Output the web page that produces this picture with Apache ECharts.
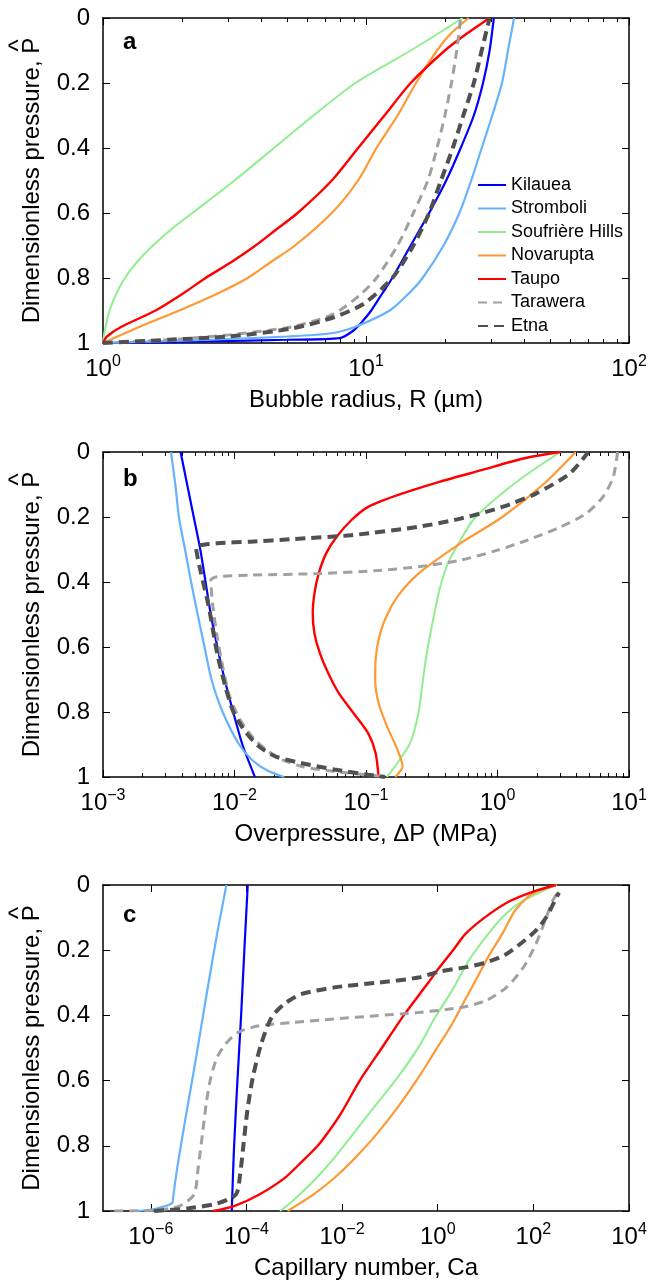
<!DOCTYPE html>
<html><head><meta charset="utf-8">
<script src="https://cdn.jsdelivr.net/npm/echarts@6/dist/echarts.min.js"></script>
<style>html,body{margin:0;padding:0;background:#fff}#c{width:656px;height:1288px}</style>
</head><body><div id="c"></div>
<script>
const FONT = "'Liberation Sans', Arial, Helvetica, sans-serif";

const seriesNames = ['Kilauea','Stromboli','Soufrière Hills','Novarupta','Taupo','Tarawera','Etna'];
const seriesColors = ['#0000FF','#66B2FF','#90EE90','#FF9933','#FF0000','#A0A0A0','#505050'];
const seriesWidths = [2.2, 2.2, 2, 2.2, 2.4, 3, 4];
const seriesDash = ['solid','solid','solid','solid','solid',[9,6],[10,6]];

const panelLetters = ['a','b','c'];
const xAxisNames = ['Bubble radius, R (µm)', 'Overpressure, \u0394P (MPa)', 'Capillary number, Ca'];
const yAxisName = 'Dimensionless pressure, P';
const hatMark = '^';
const xMin = [1, 1e-3, 1e-7];
const xMax = [100, 10, 1e4];
const xMajorTicks = [[1,10,100],[1e-3,1e-2,1e-1,1,10],[1e-6,1e-4,1e-2,1,100,1e4]];
const yTickValues = [0,0.2,0.4,0.6,0.8,1];

// Panel a: [bubble radius (µm), P-hat]
const kilaueaA = [[1,1],[1.585,0.998],[2.512,0.995],[5.012,0.99],[7.943,0.985],[9.016,0.96],[9.772,0.93],[10.47,0.9],[11.48,0.85],[12.59,0.8],[14.79,0.7],[17.38,0.6],[20.18,0.5],[22.91,0.4],[25.70,0.3],[27.86,0.2],[29.51,0.1],[30.62,0]];
const stromboliA = [[1,1],[1.585,0.995],[2.512,0.99],[5.012,0.98],[7.413,0.97],[9.120,0.95],[12.30,0.9],[14.45,0.85],[16.41,0.8],[19.72,0.7],[22.65,0.6],[25.12,0.5],[27.54,0.4],[30.20,0.3],[32.89,0.2],[34.67,0.1],[36.56,0]];
const soufriereA = [[1,1],[1.007,0.98],[1.023,0.95],[1.059,0.9],[1.122,0.85],[1.211,0.8],[1.349,0.75],[1.549,0.7],[1.820,0.65],[2.188,0.6],[3.162,0.5],[4.467,0.4],[6.310,0.3],[9.120,0.2],[14.79,0.1],[18.62,0.05],[23.28,0]];
const novaruptaA = [[1,1],[1.380,0.95],[1.950,0.9],[2.692,0.85],[3.548,0.8],[4.365,0.75],[5.370,0.7],[7.413,0.6],[9.333,0.5],[10.96,0.4],[13.18,0.3],[15.49,0.2],[18.62,0.1],[20.89,0.05],[24.55,0]];
const taupoA = [[1,1],[1.035,0.98],[1.175,0.95],[1.585,0.9],[1.995,0.85],[2.455,0.8],[3.090,0.75],[3.802,0.7],[4.571,0.65],[5.495,0.6],[7.413,0.5],[9.333,0.4],[11.75,0.3],[14.79,0.2],[19.95,0.1],[23.99,0.05],[29.51,0]];
const taraweraA = [[1,1],[1.778,0.99],[3.020,0.975],[5.248,0.95],[7.079,0.92],[7.943,0.9],[9.550,0.85],[10.96,0.8],[13.18,0.7],[15.14,0.6],[17.18,0.5],[18.62,0.4],[19.95,0.3],[21.13,0.2],[22.13,0.1],[22.91,0]];
const etnaA = [[1,1],[1.778,0.99],[3.020,0.98],[5.248,0.955],[7.586,0.92],[9.772,0.88],[12.59,0.8],[15.14,0.7],[17.38,0.6],[19.28,0.5],[21.38,0.4],[23.44,0.3],[25.70,0.2],[27.54,0.1],[29.51,0]];

// Panel b: [overpressure (MPa), P-hat]
const kilaueaB = [[0.003890,0],[0.004365,0.1],[0.004898,0.2],[0.005495,0.3],[0.006026,0.4],[0.006607,0.5],[0.007413,0.6],[0.008414,0.7],[0.009772,0.8],[0.01148,0.9],[0.01429,1]];
const stromboliB = [[0.003289,0],[0.003548,0.1],[0.003776,0.2],[0.004207,0.3],[0.004677,0.4],[0.005248,0.5],[0.005916,0.6],[0.006683,0.7],[0.008128,0.8],[0.01084,0.9],[0.01380,0.95],[0.01778,0.98],[0.02388,1]];
const soufriereB = [[3.0,0],[1.570,0.077],[0.9397,0.148],[0.6501,0.21],[0.5224,0.271],[0.4188,0.343],[0.3614,0.425],[0.3236,0.517],[0.2897,0.619],[0.2692,0.711],[0.2506,0.803],[0.2163,0.896],[0.1734,0.957],[0.1442,1]];
const novaruptaB = [[3.936,0],[2.270,0.097],[1.089,0.2],[0.5224,0.281],[0.2506,0.374],[0.1734,0.445],[0.1390,0.517],[0.1247,0.578],[0.1183,0.64],[0.1175,0.701],[0.1247,0.773],[0.1445,0.844],[0.1734,0.916],[0.1897,0.967],[0.1671,1]];
const taupoB = [[3.0,0],[1.570,0.02],[0.7534,0.056],[0.3614,0.092],[0.1734,0.133],[0.1038,0.169],[0.07727,0.21],[0.05984,0.261],[0.04977,0.312],[0.04365,0.374],[0.04055,0.435],[0.03936,0.496],[0.04055,0.558],[0.04457,0.619],[0.05164,0.681],[0.06209,0.742],[0.08017,0.803],[0.1038,0.865],[0.1183,0.926],[0.1247,1]];
const taraweraB = [[8.185,0],[7.586,0.077],[6.339,0.138],[4.732,0.189],[3.041,0.23],[1.690,0.271],[1.0,0.302],[0.5224,0.333],[0.2506,0.353],[0.1202,0.365],[0.04457,0.374],[0.01327,0.379],[0.007379,0.384],[0.006607,0.394],[0.006855,0.476],[0.007379,0.568],[0.008222,0.67],[0.009183,0.752],[0.01104,0.824],[0.01429,0.885],[0.02061,0.937],[0.03206,0.967],[0.05768,0.983],[0.1202,0.996],[0.1393,1]];
const etnaB = [[4.909,0],[3.524,0.067],[1.959,0.128],[1.089,0.169],[0.5224,0.205],[0.2506,0.23],[0.07727,0.256],[0.02767,0.268],[0.01327,0.276],[0.007379,0.281],[0.005105,0.294],[0.005495,0.363],[0.006368,0.476],[0.007379,0.619],[0.008531,0.722],[0.009886,0.803],[0.01233,0.865],[0.01538,0.906],[0.02061,0.937],[0.03206,0.957],[0.05768,0.977],[0.1038,0.993],[0.1393,1]];

// Panel c: [capillary number, P-hat]
const kilaueaC = [[1.064e-4,0],[9.036e-5,0.2],[7.691e-5,0.406],[6.412e-5,0.611],[5.458e-5,0.816],[5.035e-5,0.959],[4.932e-5,1]];
const stromboliC = [[3.802e-5,0],[2.432e-5,0.15],[1.469e-5,0.335],[8.851e-6,0.529],[5.346e-6,0.713],[3.573e-6,0.867],[2.917e-6,0.959],[2.818e-6,0.975],[1.259e-6,0.993],[5.248e-7,1]];
const soufriereC = [[5.035e-4,1],[9.226e-4,0.969],[2.529e-3,0.908],[6.950e-3,0.836],[1.910e-2,0.754],[5.236e-2,0.672],[0.1439,0.591],[0.3945,0.498],[0.8851,0.406],[1.986,0.324],[4.436,0.232],[9.977,0.161],[22.39,0.099],[61.52,0.048],[297.2,0]];
const novaruptaC = [[7.244e-4,1],[2.529e-3,0.949],[6.950e-3,0.898],[1.910e-2,0.836],[5.236e-2,0.765],[0.1439,0.683],[0.3945,0.591],[0.8851,0.509],[1.986,0.427],[3.639,0.355],[6.668,0.284],[12.25,0.212],[22.39,0.15],[41.11,0.079],[92.26,0.028],[309.7,0]];
const taupoC = [[1.995e-5,1],[5.495e-5,0.985],[1.820e-4,0.95],[6.166e-4,0.9],[1.413e-3,0.85],[3.090e-3,0.8],[5.623e-3,0.75],[9.550e-3,0.7],[2.344e-2,0.6],[6.761e-2,0.5],[0.1950,0.4],[0.631,0.3],[1.122,0.25],[2.089,0.2],[3.802,0.15],[9.550,0.1],[31.62,0.05],[100,0.02],[295.1,0]];
const taraweraC = [[1.726e-7,1],[1.175e-6,0.998],[3.954e-6,0.985],[8.017e-6,0.949],[9.795e-6,0.867],[1.200e-5,0.765],[1.469e-5,0.662],[1.795e-5,0.591],[2.432e-5,0.529],[3.639e-5,0.488],[6.668e-5,0.452],[1.832e-4,0.432],[9.226e-4,0.422],[6.950e-3,0.411],[5.236e-2,0.401],[0.3945,0.391],[2.972,0.376],[9.977,0.355],[27.42,0.314],[61.52,0.253],[113.0,0.181],[187.1,0.099],[252.9,0.048],[309.7,0.028]];
const etnaC = [[1.175e-6,1],[5.916e-6,0.992],[2.432e-5,0.977],[6.039e-5,0.949],[7.379e-5,0.887],[8.690e-5,0.795],[1.042e-4,0.693],[1.355e-4,0.591],[2.028e-4,0.488],[3.357e-4,0.406],[6.152e-4,0.365],[1.380e-3,0.335],[6.950e-3,0.314],[5.236e-2,0.3],[0.3945,0.284],[1.122,0.265],[3.981,0.252],[10.0,0.238],[25.12,0.215],[56.23,0.178],[112.2,0.14],[186.2,0.099],[281.8,0.048],[342.8,0.023]];

const panelData = [
  [kilaueaA, stromboliA, soufriereA, novaruptaA, taupoA, taraweraA, etnaA],
  [kilaueaB, stromboliB, soufriereB, novaruptaB, taupoB, taraweraB, etnaB],
  [kilaueaC, stromboliC, soufriereC, novaruptaC, taupoC, taraweraC, etnaC]
];

const gridTop = [18, 452, 885];
const gridHeight = [325, 325, 326];
const letterTop = [30, 467, 903];
const hasMinor = [true, true, false];

function minorTicks(lo, hi) {
  const out = [];
  const e0 = Math.round(Math.log10(lo)), e1 = Math.round(Math.log10(hi));
  for (let e = e0; e < e1; e++) for (let m = 2; m <= 9; m++) out.push(parseFloat((m * Math.pow(10, e)).toPrecision(6)));
  return out;
}
function pow10Label(v) {
  const e = Math.round(Math.log10(v));
  return '{b|10}{e|' + (e < 0 ? '\u2212' + (-e) : e) + '}';
}

const grids = [], xAxes = [], yAxes = [], series = [], graphics = [];
for (let i = 0; i < 3; i++) {
  grids.push({left: 103, width: 526, top: gridTop[i], height: gridHeight[i], containLabel: false, outerBoundsMode: 'none'});
  const common = {type: 'log', logBase: 10, gridIndex: i, min: xMin[i], max: xMax[i], splitLine: {show: false}};
  const lineOn = {show: true, onZero: false, lineStyle: {color: '#000', width: 1.5}};
  const minor = hasMinor[i] ? minorTicks(xMin[i], xMax[i]) : [];
  xAxes.push(Object.assign({}, common, {
    position: 'bottom', axisLine: lineOn,
    axisTick: {show: true, inside: true, length: 7, customValues: xMajorTicks[i], lineStyle: {color: '#000', width: 1}},
    axisLabel: {show: true, customValues: xMajorTicks[i], formatter: pow10Label, margin: 11,
      rich: {b: {fontSize: 24, lineHeight: 30, fontFamily: FONT, color: '#000'},
             e: {fontSize: 16, lineHeight: 16, verticalAlign: 'top', fontFamily: FONT, color: '#000'}}},
    name: xAxisNames[i], nameLocation: 'middle', nameGap: 45,
    nameTextStyle: {fontSize: 24, color: '#000', fontFamily: FONT}
  }));
  xAxes.push(Object.assign({}, common, {
    position: 'top', axisLine: lineOn,
    axisTick: {show: true, inside: true, length: 7, customValues: xMajorTicks[i], lineStyle: {color: '#000', width: 1}},
    axisLabel: {show: false}
  }));
  xAxes.push(Object.assign({}, common, {
    position: 'bottom', axisLine: {show: false, onZero: false},
    axisTick: {show: minor.length > 0, inside: true, length: 4, customValues: minor.length ? minor : undefined, lineStyle: {color: '#000', width: 1}},
    axisLabel: {show: false}
  }));
  xAxes.push(Object.assign({}, common, {
    position: 'top', axisLine: {show: false, onZero: false},
    axisTick: {show: minor.length > 0, inside: true, length: 4, customValues: minor.length ? minor : undefined, lineStyle: {color: '#000', width: 1}},
    axisLabel: {show: false}
  }));
  const yCommon = {type: 'value', gridIndex: i, min: 0, max: 1, interval: 0.2, inverse: true, splitLine: {show: false},
    axisLine: {show: true, onZero: false, lineStyle: {color: '#000', width: 1.5}},
    axisTick: {show: true, inside: true, length: 7, lineStyle: {color: '#000', width: 1}}};
  yAxes.push(Object.assign({}, yCommon, {
    position: 'left',
    axisLabel: {show: true, fontSize: 24, color: '#000', margin: 13, fontFamily: FONT},
    name: yAxisName, nameLocation: 'middle', nameGap: 59, nameRotate: 90,
    nameTextStyle: {fontSize: 24, color: '#000', fontFamily: FONT}
  }));
  yAxes.push(Object.assign({}, yCommon, {position: 'right', axisLabel: {show: false}}));

  for (let k = 0; k < seriesNames.length; k++) {
    series.push({
      type: 'line', name: seriesNames[k], xAxisIndex: 4 * i, yAxisIndex: 2 * i,
      data: panelData[i][k], symbol: 'none', showSymbol: false, smooth: 0.25,
      lineStyle: {color: seriesColors[k], width: seriesWidths[k], type: seriesDash[k]},
      itemStyle: {color: seriesColors[k]}, emphasis: {disabled: true}, animation: false
    });
  }
  graphics.push({type: 'text', left: 123, top: letterTop[i],
    style: {text: panelLetters[i], font: 'bold 24px ' + FONT, fill: '#000'}});
  // hat over the P of the rotated y-axis title
  const nameCenterY = gridTop[i] + gridHeight[i] / 2;
  graphics.push({type: 'text', x: 20, y: nameCenterY - 135, rotation: Math.PI / 2,
    style: {text: hatMark, font: '26px ' + FONT, fill: '#000', align: 'center', verticalAlign: 'middle'}});
}

const chart = echarts.init(document.getElementById('c'), null, {renderer: 'canvas'});
chart.setOption({
  animation: false,
  backgroundColor: '#fff',
  textStyle: {fontFamily: FONT},
  grid: grids, xAxis: xAxes, yAxis: yAxes, series: series, graphic: graphics,
  legend: {
    orient: 'vertical', left: 472, top: 171, itemWidth: 28, itemHeight: 1, itemGap: 5.5,
    data: seriesNames, selectedMode: false,
    itemStyle: {opacity: 0},
    textStyle: {fontSize: 18, lineHeight: 18, color: '#000', fontFamily: FONT}
  }
});
</script></body></html>
